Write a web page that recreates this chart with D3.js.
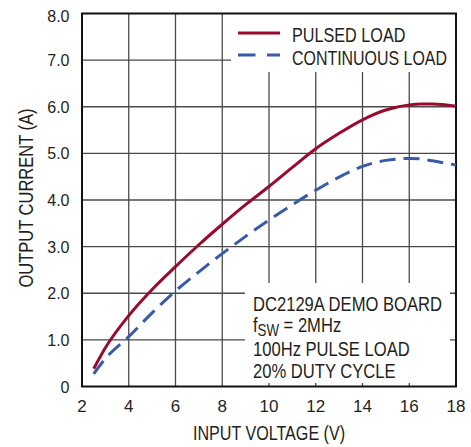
<!DOCTYPE html>
<html><head><meta charset="utf-8">
<script src="https://cdn.jsdelivr.net/npm/d3@7"></script>
<style>
html,body{margin:0;padding:0;background:#fff;}
svg{display:block;}
.t{font-family:"Liberation Sans","Arial",sans-serif;fill:#231f20;}
.n{font-family:"Liberation Sans","Arial",sans-serif;fill:#231f20;}
</style></head>
<body>
<svg id="c" width="471" height="447"></svg>
<script>
const xTicks = [2,4,6,8,10,12,14,16,18];
const yTicks = [0,1,2,3,4,5,6,7,8];
const yTickLabels = ["0","1.0","2.0","3.0","4.0","5.0","6.0","7.0","8.0"];
const seriesNames = ["PULSED LOAD","CONTINUOUS LOAD"];
const vin = [2.5,3,4,5,6,7,8,9,10,11,12,13,14,15,16,16.5,17,18];
const pulsed = [0.38,0.83,1.52,2.08,2.57,3.04,3.48,3.9,4.29,4.7,5.1,5.43,5.72,5.93,6.04,6.06,6.06,6.01];
const continuous = [0.27,0.6,1.07,1.58,2.05,2.46,2.85,3.22,3.57,3.9,4.21,4.49,4.72,4.85,4.89,4.88,4.84,4.75];
const notes = ["DC2129A DEMO BOARD","f|SW| = 2MHz","100Hz PULSE LOAD","20% DUTY CYCLE"];

const svg = d3.select("#c");
const L=82, R=456, T=13.5, B=386.5;
const x = d3.scaleLinear().domain([2,18]).range([L,R]);
const y = d3.scaleLinear().domain([0,8]).range([B,T]);
const SX = 0.815; // condensed look

function ctext(px, py, str, opts={}){
  const t = svg.append("text").attr("class","t")
    .attr("transform",`translate(${px},${py})${opts.rot?` rotate(${opts.rot})`:""} scale(${opts.sx||SX},1)`)
    .attr("font-size",opts.size||20)
    .attr("text-anchor",opts.anchor||"start");
  const parts = str.split("|");
  if(parts.length===1) t.text(str);
  else {
    t.append("tspan").text(parts[0]);
    t.append("tspan").attr("dy",3.5).attr("font-size",16).text(parts[1]);
    t.append("tspan").attr("dy",-3.5).text(parts[2]);
  }
  return t;
}

// grid
const g = svg.append("g");
g.selectAll(".vg").data(xTicks.slice(1,-1)).join("line")
 .attr("x1",d=>x(d)).attr("x2",d=>x(d)).attr("y1",T).attr("y2",B)
 .attr("stroke","#4a4a4a").attr("stroke-width",1.3);
g.selectAll(".hg").data(yTicks.slice(1,-1)).join("line")
 .attr("y1",d=>y(d)).attr("y2",d=>y(d)).attr("x1",L).attr("x2",R)
 .attr("stroke","#4a4a4a").attr("stroke-width",1.3);

// boxes covering grid
svg.append("rect").attr("x",231).attr("y",T).attr("width",R-231).attr("height",72-T).attr("fill","#fff");
svg.append("rect").attr("x",245).attr("y",283).attr("width",450-245).attr("height",383-283).attr("fill","#fff");

// frame
svg.append("rect").attr("x",L).attr("y",T).attr("width",R-L).attr("height",B-T)
 .attr("fill","none").attr("stroke","#111").attr("stroke-width",2);

// tick labels
svg.selectAll(".xl").data(xTicks).join("text").attr("class","n")
 .attr("x",d=>x(d)).attr("y",412).attr("text-anchor","middle").attr("font-size",17).text(d=>d);
svg.selectAll(".yl").data(yTicks).join("text").attr("class","n")
 .attr("x",69.5).attr("y",d=>y(d)+ (d===8?8.5:6)).attr("text-anchor","end").attr("font-size",16).text((d,i)=>yTickLabels[i]);

// axis titles
ctext(269,440,"INPUT VOLTAGE (V)",{anchor:"middle",sx:0.806});
ctext(33,198,"OUTPUT CURRENT (A)",{anchor:"middle",rot:-90,sx:0.826});

// curves
const line = d3.line().x(d=>x(d[0])).y(d=>y(d[1])).curve(d3.curveMonotoneX);
const red="#990a2e", blue="#3a5aa8";
svg.append("path").attr("d",line(vin.map((v,i)=>[v,pulsed[i]])))
 .attr("fill","none").attr("stroke",red).attr("stroke-width",3);
svg.append("path").attr("d",line(vin.map((v,i)=>[v,continuous[i]])))
 .attr("fill","none").attr("stroke",blue).attr("stroke-width",3).attr("stroke-dasharray","16,8");

// legend
svg.append("line").attr("x1",238).attr("x2",280).attr("y1",33).attr("y2",33).attr("stroke",red).attr("stroke-width",3);
svg.append("line").attr("x1",238).attr("x2",280).attr("y1",55).attr("y2",55).attr("stroke",blue).attr("stroke-width",3).attr("stroke-dasharray","17.5,11.5");
ctext(292,42,seriesNames[0],{sx:0.81});
ctext(292,64.5,seriesNames[1],{sx:0.797});

// notes
const nb=[311,332,355.5,377.5];
notes.forEach((s,i)=>ctext(253,nb[i],s,{sx:0.83}));
</script>
</body></html>
